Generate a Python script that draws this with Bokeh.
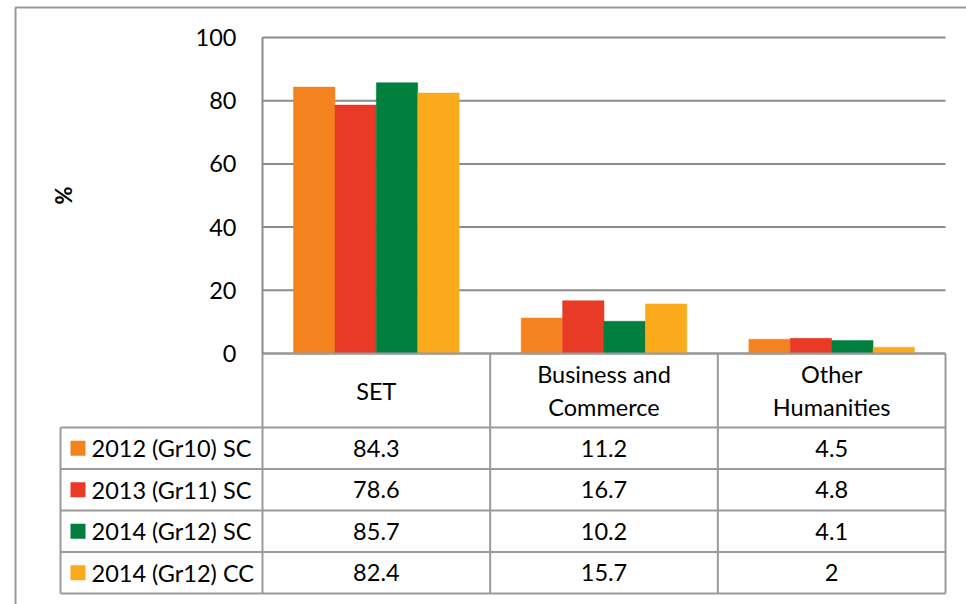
from bokeh.plotting import figure
from bokeh.models import Range1d, LinearAxis, FixedTicker
from bokeh.core.properties import value
from bokeh.embed import file_html
from bokeh.resources import INLINE

# ---------------- data ----------------
categories = ["SET", "Business and\nCommerce", "Other\nHumanities"]
series_names = ["2012 (Gr10) SC", "2013 (Gr11) SC", "2014 (Gr12) SC", "2014 (Gr12) CC"]
s2012_gr10_sc = [84.3, 11.2, 4.5]
s2013_gr11_sc = [78.6, 16.7, 4.8]
s2014_gr12_sc = [85.7, 10.2, 4.1]
s2014_gr12_cc = [82.4, 15.7, 2.0]
series_values = [s2012_gr10_sc, s2013_gr11_sc, s2014_gr12_sc, s2014_gr12_cc]
series_colors = ["#F3821F", "#E83A26", "#007F3F", "#FAAA1A"]
y_ticks = [0, 20, 40, 60, 80, 100]

# ---------------- layout constants (pixels) ----------------
W, H = 966, 604
PX_LEFT, PX_RIGHT = 262, 945      # plot area left/right
PX_TOP, PX_ZERO = 37, 353         # y=100 and y=0
ROW_LEFT = 60                     # table left edge
HEADER_BOTTOM = 427
ROW_H = 41.5
FONT = "Lato"
FS = "23.5px"
LINE = "#9a9a9a"

n_cat = len(categories)
ux = (PX_RIGHT - PX_LEFT) / n_cat
uy = (PX_ZERO - PX_TOP) / 100.0

p = figure(width=W, height=H, output_backend="svg", toolbar_location=None,
           x_range=Range1d(-PX_LEFT / ux, n_cat + (W - PX_RIGHT) / ux),
           y_range=Range1d(-(H - PX_ZERO) / uy, 100 + PX_TOP / uy),
           x_axis_location=None, y_axis_location=None,
           min_border=0, outline_line_color=None)
p.extra_x_ranges = {"px": Range1d(0, W)}
p.extra_y_ranges = {"px": Range1d(H, 0)}
p.xgrid.visible = False
p.ygrid.visible = False

# outer chart border
p.line(x=[15, 15, W], y=[H, 7, 7], x_range_name="px", y_range_name="px",
       line_color="#999999", line_width=2)

# gridlines
p.segment(x0=[0] * len(y_ticks), x1=[n_cat] * len(y_ticks), y0=y_ticks, y1=y_ticks,
          line_color="#8c8c8c", line_width=2)

# bars
bw = 1 / 5.5
for j, (name, vals, col) in enumerate(zip(series_names, series_values, series_colors)):
    xs = [i + 0.5 + (j - 1.5) * bw for i in range(n_cat)]
    p.vbar(x=xs, top=vals, bottom=0, width=bw, fill_color=col, line_color=col,
           line_width=0.5)

# y axis
ax = LinearAxis(fixed_location=0, ticker=FixedTicker(ticks=y_ticks), bounds=(0, 100),
                axis_line_color="#8c8c8c", axis_line_width=2,
                major_tick_line_color=None, minor_tick_line_color=None,
                major_tick_in=0, major_tick_out=0,
                major_label_text_font=FONT, major_label_text_font_size=FS,
                major_label_text_color="black", major_label_standoff=26,
                axis_label="%", axis_label_text_font=FONT,
                axis_label_text_font_size="22px", axis_label_text_font_style="bold",
                axis_label_text_color="black", axis_label_standoff=116)
p.add_layout(ax, "left")

# ---------------- data table ----------------
n_rows = len(series_names)
row_edges = [HEADER_BOTTOM + k * ROW_H for k in range(n_rows + 1)]
# horizontal lines
hx0 = [PX_LEFT] + [ROW_LEFT] * len(row_edges)
hx1 = [PX_RIGHT] * (len(row_edges) + 1)
hy = [PX_ZERO] + row_edges
p.segment(x0=hx0, x1=hx1, y0=hy, y1=hy, x_range_name="px", y_range_name="px",
          line_color=LINE, line_width=2)
# vertical lines
vx = [ROW_LEFT, PX_LEFT] + [PX_LEFT + ux * (i + 1) for i in range(n_cat)]
vy0 = [HEADER_BOTTOM, PX_ZERO] + [PX_ZERO] * n_cat
vy1 = [row_edges[-1]] * len(vx)
p.segment(x0=vx, x1=vx, y0=vy0, y1=vy1, x_range_name="px", y_range_name="px",
          line_color=LINE, line_width=2)

# header text
p.text(x=[i + 0.5 for i in range(n_cat)], y=[(PX_ZERO + HEADER_BOTTOM) / 2] * n_cat,
       text=categories, y_range_name="px", text_align="center", text_baseline="middle",
       text_font=value(FONT), text_font_size=FS, text_color="black",
       text_line_height=1.2)

# row labels with colour keys
row_mid = [HEADER_BOTTOM + (k + 0.5) * ROW_H for k in range(n_rows)]
p.rect(x=[77.5] * n_rows, y=row_mid, width=15, height=15, x_range_name="px",
       y_range_name="px", fill_color=series_colors, line_color=None)
p.text(x=[91] * n_rows, y=row_mid, text=series_names, x_range_name="px",
       y_range_name="px", text_align="left", text_baseline="middle",
       text_font=value(FONT), text_font_size=FS, text_color="black")

# values
tx, ty, tt = [], [], []
for k, vals in enumerate(series_values):
    for i, v in enumerate(vals):
        tx.append(i + 0.5)
        ty.append(row_mid[k])
        tt.append(f"{v:g}")
p.text(x=tx, y=ty, text=tt, y_range_name="px", text_align="center",
       text_baseline="middle", text_font=value(FONT), text_font_size=FS,
       text_color="black")

open("out.html", "w").write(file_html(p, INLINE))
